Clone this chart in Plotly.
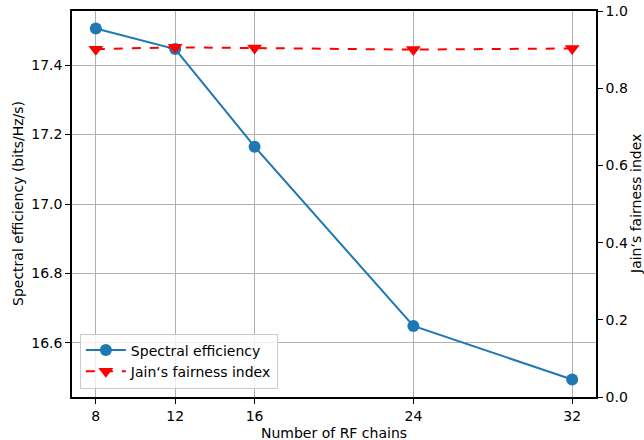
import plotly.graph_objects as go

rf_chains = [8, 12, 16, 24, 32]
spectral_eff = [17.505, 17.446, 17.165, 16.649, 16.495]
fairness = [0.901, 0.906, 0.904, 0.900, 0.903]
left_ticks = [16.6, 16.8, 17.0, 17.2, 17.4]
right_ticks = [0.0, 0.2, 0.4, 0.6, 0.8, 1.0]

font = "DejaVu Sans"
fig = go.Figure()
fig.add_trace(go.Scatter(
    x=rf_chains, y=spectral_eff, name="Spectral efficiency",
    mode="lines+markers", line=dict(color="#1f77b4", width=2),
    marker=dict(symbol="circle", size=12, color="#1f77b4"), yaxis="y"))
fig.add_trace(go.Scatter(
    x=rf_chains, y=fairness, name="Jain\u2018s fairness index",
    mode="lines+markers", line=dict(color="red", width=2, dash="dash"),
    marker=dict(symbol="triangle-down", size=13, color="red"), yaxis="y2"))

fig.update_layout(
    width=644, height=440,
    margin=dict(l=72, r=48, t=11, b=43, autoexpand=False),
    paper_bgcolor="white", plot_bgcolor="white",
    font=dict(family=font, size=14, color="black"),
    showlegend=True,
    legend=dict(x=0.015, y=0.022, xanchor="left", yanchor="bottom",
                bgcolor="rgba(255,255,255,0.8)", bordercolor="#cccccc",
                borderwidth=1, font=dict(size=14), tracegroupgap=0,
                itemwidth=40),
    xaxis=dict(range=[6.8, 33.2], tickvals=rf_chains, ticktext=[str(v) for v in rf_chains],
               showgrid=True, gridcolor="#b0b0b0", gridwidth=1,
               showline=True, linecolor="black", linewidth=1.5, mirror=True,
               ticks="outside", ticklen=5, tickcolor="black", automargin=False,
               zeroline=False),
    yaxis=dict(range=[16.4445, 17.5555], tickvals=left_ticks,
               ticktext=[f"{v:.1f}" for v in left_ticks],
               showgrid=True, gridcolor="#b0b0b0", gridwidth=1,
               showline=True, linecolor="black", linewidth=1.5, mirror=True,
               ticks="outside", ticklen=5, tickcolor="black", automargin=False,
               zeroline=False),
    yaxis2=dict(range=[0, 1], tickvals=right_ticks,
                ticktext=[f"{v:.1f}" for v in right_ticks],
                overlaying="y", side="right", showgrid=False,
                showline=True, linecolor="black", linewidth=1.5,
                ticks="outside", ticklen=5, tickcolor="black", automargin=False,
                zeroline=False),
    annotations=[
        dict(text="Number of RF chains", xref="paper", yref="paper", x=0.5, y=0,
             xanchor="center", yanchor="top", yshift=-26, showarrow=False,
             font=dict(size=14)),
        dict(text="Spectral efficiency (bits/Hz/s)", xref="paper", yref="paper",
             x=0, y=0.5, xanchor="center", yanchor="middle", xshift=-54,
             textangle=-90, showarrow=False, font=dict(size=14)),
        dict(text="Jain\u2018s fairness index", xref="paper", yref="paper",
             x=1, y=0.5, xanchor="center", yanchor="middle", xshift=40,
             textangle=-90, showarrow=False, font=dict(size=14)),
    ],
)
fig.write_html("out.html", config={"displayModeBar": False},
               post_script="document.body.style.margin='0';document.body.style.padding='0';")
